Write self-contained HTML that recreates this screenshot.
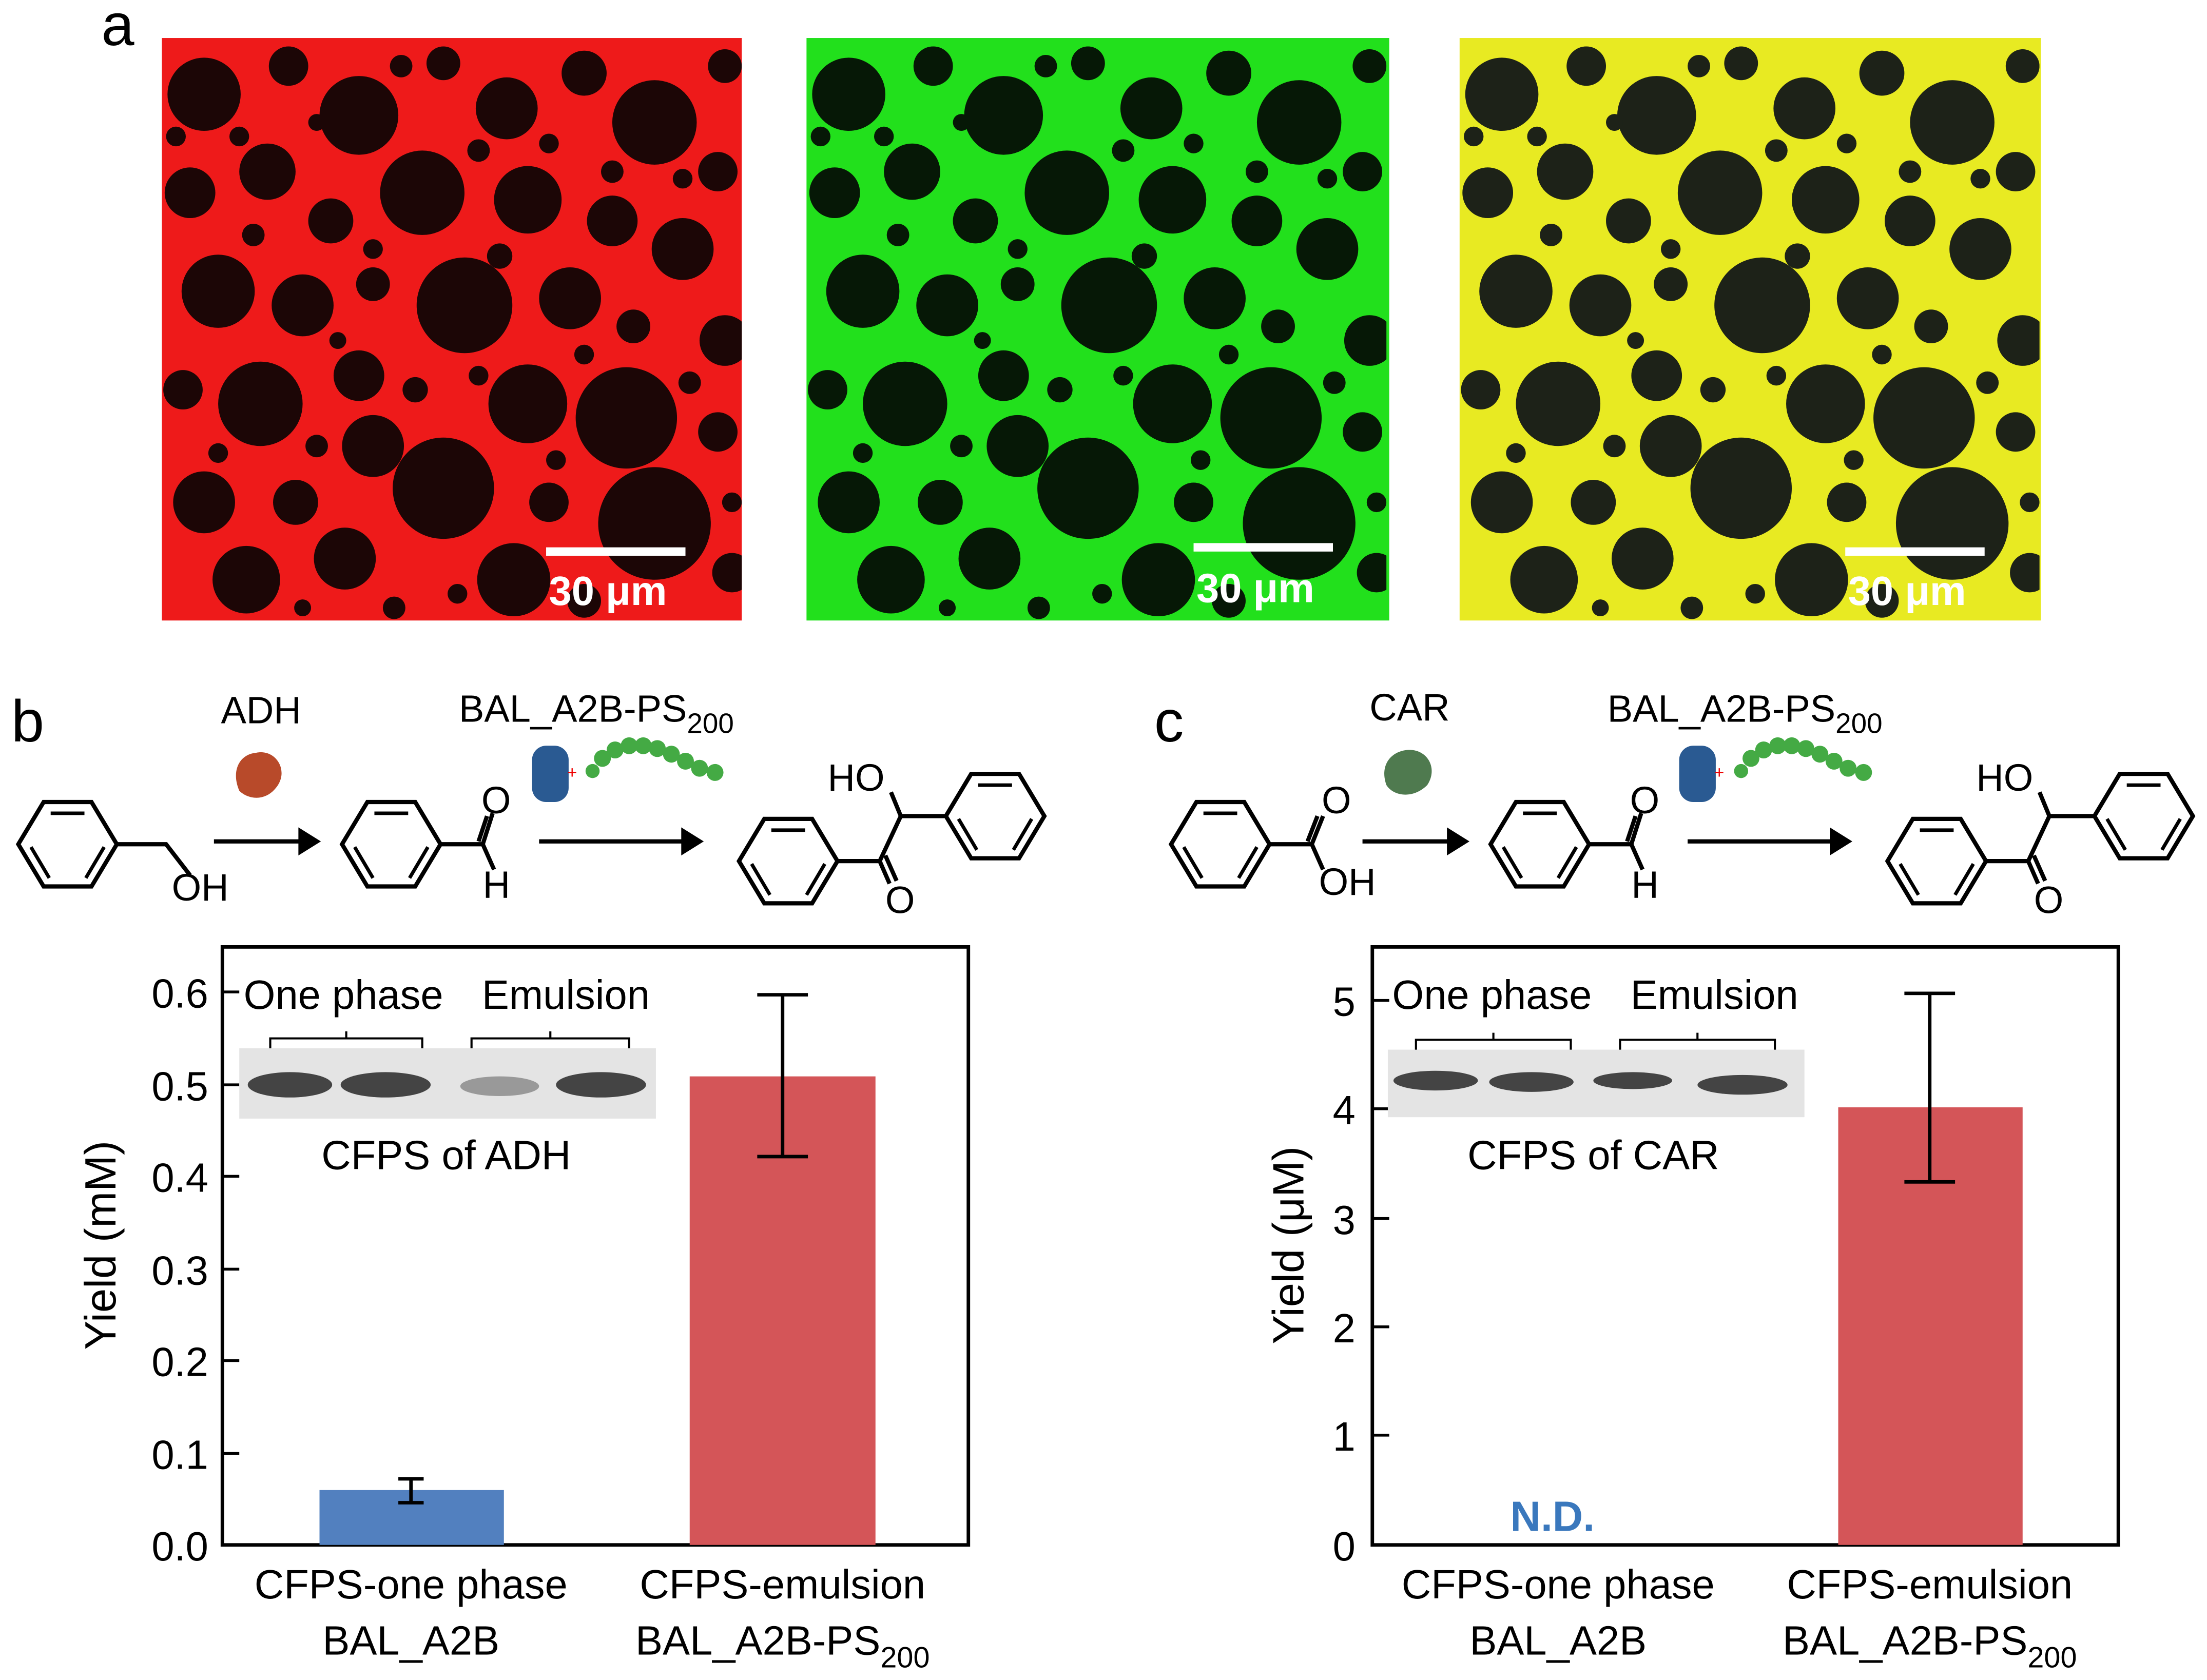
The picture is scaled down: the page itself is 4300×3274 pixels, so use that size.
<!DOCTYPE html>
<html><head><meta charset="utf-8"><style>
html,body{margin:0;padding:0;background:#fff;}
svg{display:block;}
text{font-family:"Liberation Sans",Arial,sans-serif;}
</style></head><body>
<svg width="4300" height="3274" viewBox="0 0 1568 1194" preserveAspectRatio="none" xmlns="http://www.w3.org/2000/svg">
<defs>
<clipPath id="cp"><rect x="0" y="0" width="412" height="414"/></clipPath>
<g id="drops">
<circle cx="30" cy="40" r="26"/><circle cx="90" cy="20" r="14"/><circle cx="140" cy="55" r="28"/><circle cx="200" cy="18" r="12"/><circle cx="245" cy="50" r="22"/><circle cx="300" cy="25" r="16"/><circle cx="350" cy="60" r="30"/><circle cx="400" cy="20" r="12"/><circle cx="395" cy="95" r="14"/>
<circle cx="20" cy="110" r="18"/><circle cx="75" cy="95" r="20"/><circle cx="120" cy="130" r="16"/><circle cx="185" cy="110" r="30"/><circle cx="260" cy="115" r="24"/><circle cx="320" cy="130" r="18"/><circle cx="370" cy="150" r="22"/>
<circle cx="40" cy="180" r="26"/><circle cx="100" cy="190" r="22"/><circle cx="150" cy="175" r="12"/><circle cx="215" cy="190" r="34"/><circle cx="290" cy="185" r="22"/><circle cx="335" cy="205" r="12"/><circle cx="400" cy="215" r="18"/>
<circle cx="15" cy="250" r="14"/><circle cx="70" cy="260" r="30"/><circle cx="140" cy="240" r="18"/><circle cx="150" cy="290" r="22"/><circle cx="260" cy="260" r="28"/><circle cx="330" cy="270" r="36"/><circle cx="395" cy="280" r="14"/>
<circle cx="30" cy="330" r="22"/><circle cx="95" cy="330" r="16"/><circle cx="200" cy="320" r="36"/><circle cx="275" cy="330" r="14"/><circle cx="350" cy="345" r="40"/><circle cx="60" cy="385" r="24"/><circle cx="130" cy="370" r="22"/><circle cx="250" cy="385" r="26"/><circle cx="300" cy="400" r="12"/><circle cx="405" cy="380" r="14"/>
<circle cx="10" cy="70" r="7"/><circle cx="55" cy="70" r="7"/><circle cx="110" cy="60" r="6"/><circle cx="170" cy="20" r="8"/><circle cx="225" cy="80" r="8"/><circle cx="275" cy="75" r="7"/><circle cx="320" cy="95" r="8"/><circle cx="65" cy="140" r="8"/><circle cx="150" cy="150" r="7"/><circle cx="240" cy="155" r="9"/><circle cx="125" cy="215" r="6"/><circle cx="180" cy="250" r="9"/><circle cx="225" cy="240" r="7"/><circle cx="300" cy="225" r="7"/><circle cx="375" cy="245" r="8"/><circle cx="110" cy="290" r="8"/><circle cx="40" cy="295" r="7"/><circle cx="280" cy="300" r="7"/><circle cx="165" cy="405" r="8"/><circle cx="210" cy="395" r="7"/><circle cx="100" cy="405" r="6"/><circle cx="370" cy="100" r="7"/><circle cx="405" cy="330" r="7"/>
</g>
</defs>
<text x="72" y="32" font-size="42">a</text>
<rect x="115" y="27" width="412" height="414" fill="#ee1a1a"/>
<g transform="translate(115,27)" fill="#1c0606" clip-path="url(#cp)"><use href="#drops"/></g>
<rect x="573" y="27" width="414" height="414" fill="#22e01c"/>
<g transform="translate(573,27)" fill="#061806" clip-path="url(#cp)"><use href="#drops"/></g>
<rect x="1037" y="27" width="413" height="414" fill="#e8ea22"/>
<g transform="translate(1037,27)" fill="#1d2218" clip-path="url(#cp)"><use href="#drops"/></g>
<g fill="#fff" font-weight="bold" font-size="29">
<rect x="388" y="389" width="99" height="6"/><text x="390" y="430">30 μm</text>
<rect x="848" y="386" width="99" height="6"/><text x="850" y="428">30 μm</text>
<rect x="1311" y="389" width="99" height="6"/><text x="1313" y="430">30 μm</text>
</g>

<!-- scheme b -->
<g stroke="#000" stroke-width="3" fill="none">
<path d="M13,600 L31,570 L65,570 L83,600 L65,630 L31,630 Z"/><path d="M36,578 L60,578 M22,602 L35,624 M74,602 L61,624" stroke-width="2.5"/>
<path d="M83,600 L118,600 L135,622"/>
<path d="M243,600 L261,570 L295,570 L313,600 L295,630 L261,630 Z"/><path d="M266,578 L290,578 M252,602 L265,624 M304,602 L291,624" stroke-width="2.5"/>
<path d="M313,600 L343,600 L350,578 M340,598 L346,580 M343,600 L351,618"/>
<path d="M525,612 L543,582 L577,582 L595,612 L577,642 L543,642 Z"/><path d="M548,590 L572,590 M534,614 L547,636 M586,614 L573,636" stroke-width="2.5"/>
<path d="M595,612 L625,612 L640,580 L672,580 M625,612 L632,628 M629,608 L637,626 M640,580 L633,563"/>
<path d="M672,580 L690,550 L724,550 L742,580 L724,610 L690,610 Z"/><path d="M695,558 L719,558 M681,582 L694,604 M733,582 L720,604" stroke-width="2.5"/>
<path d="M152,598 L215,598 M383,598 L485,598"/>
</g>
<path d="M228,598 L212,588 L212,608 Z M500,598 L484,588 L484,608 Z" fill="#000"/>
<g font-size="27">
<text x="122" y="640">OH</text><text x="342" y="578">O</text><text x="343" y="638">H</text>
<text x="588" y="562">HO</text><text x="629" y="649">O</text>
<text x="157" y="514">ADH</text>
<text x="326" y="513">BAL_A2B-PS<tspan font-size="20" dy="8">200</tspan></text>
</g>
<text x="8" y="527" font-size="42">b</text>
<path d="M182,535 C196,532 206,548 196,560 C188,570 176,568 170,562 C164,548 170,536 182,535 Z" fill="#b84a2a"/>
<rect x="378" y="530" width="26" height="40" rx="10" fill="#2a5a92"/>
<text x="403" y="553" font-size="12" fill="#e00">+</text>
<g fill="#44aa44"><circle cx="421" cy="548" r="5"/><circle cx="428" cy="539" r="6"/><circle cx="437" cy="533" r="6"/><circle cx="447" cy="530" r="6"/><circle cx="457" cy="530" r="6"/><circle cx="467" cy="532" r="6"/><circle cx="477" cy="536" r="6"/><circle cx="487" cy="541" r="6"/><circle cx="497" cy="546" r="6"/><circle cx="508" cy="549" r="6"/></g>

<!-- scheme c -->
<g stroke="#000" stroke-width="3" fill="none">
<path d="M832,600 L850,570 L884,570 L902,600 L884,630 L850,630 Z"/><path d="M855,578 L879,578 M841,602 L854,624 M893,602 L880,624" stroke-width="2.5"/>
<path d="M902,600 L932,600 L940,580 M929,598 L936,580 M932,600 L940,618"/>
<path d="M1059,600 L1077,570 L1111,570 L1129,600 L1111,630 L1077,630 Z"/><path d="M1082,578 L1106,578 M1068,602 L1081,624 M1120,602 L1107,624" stroke-width="2.5"/>
<path d="M1129,600 L1159,600 L1166,578 M1156,598 L1162,580 M1159,600 L1167,618"/>
<path d="M1341,612 L1359,582 L1393,582 L1411,612 L1393,642 L1359,642 Z"/><path d="M1364,590 L1388,590 M1350,614 L1363,636 M1402,614 L1389,636" stroke-width="2.5"/>
<path d="M1411,612 L1441,612 L1456,580 L1488,580 M1441,612 L1448,628 M1445,608 L1453,626 M1456,580 L1449,563"/>
<path d="M1488,580 L1506,550 L1540,550 L1558,580 L1540,610 L1506,610 Z"/><path d="M1511,558 L1535,558 M1497,582 L1510,604 M1549,582 L1536,604" stroke-width="2.5"/>
<path d="M968,598 L1031,598 M1199,598 L1301,598"/>
</g>
<path d="M1044,598 L1028,588 L1028,608 Z M1316,598 L1300,588 L1300,608 Z" fill="#000"/>
<g font-size="27">
<text x="939" y="578">O</text><text x="937" y="636">OH</text><text x="1158" y="578">O</text><text x="1159" y="638">H</text>
<text x="1404" y="562">HO</text><text x="1445" y="649">O</text>
<text x="973" y="512">CAR</text>
<text x="1142" y="513">BAL_A2B-PS<tspan font-size="20" dy="8">200</tspan></text>
</g>
<text x="820" y="527" font-size="42">c</text>
<path d="M1000,533 C1014,532 1022,546 1014,558 C1004,568 990,566 985,558 C980,544 988,534 1000,533 Z" fill="#4f7a4f"/>
<rect x="1193" y="530" width="26" height="40" rx="10" fill="#2a5a92"/>
<text x="1218" y="553" font-size="12" fill="#e00">+</text>
<g fill="#44aa44"><circle cx="1237" cy="548" r="5"/><circle cx="1244" cy="539" r="6"/><circle cx="1253" cy="533" r="6"/><circle cx="1263" cy="530" r="6"/><circle cx="1273" cy="530" r="6"/><circle cx="1283" cy="532" r="6"/><circle cx="1293" cy="536" r="6"/><circle cx="1303" cy="541" r="6"/><circle cx="1313" cy="546" r="6"/><circle cx="1324" cy="549" r="6"/></g>

<!-- chart b -->
<rect x="158" y="673" width="530" height="425" fill="none" stroke="#000" stroke-width="2.5"/>
<g stroke="#000" stroke-width="2">
<path d="M158,1098 h12 M158,1033 h12 M158,967 h12 M158,902 h12 M158,836 h12 M158,771 h12 M158,705 h12"/>
</g>
<g font-size="29" text-anchor="end">
<text x="148" y="1109">0.0</text><text x="148" y="1044">0.1</text><text x="148" y="978">0.2</text><text x="148" y="913">0.3</text><text x="148" y="847">0.4</text><text x="148" y="782">0.5</text><text x="148" y="716">0.6</text>
</g>
<text transform="translate(82,885) rotate(-90)" font-size="31" text-anchor="middle">Yield (mM)</text>
<rect x="227" y="1059" width="131" height="39" fill="#5280bf"/>
<rect x="490" y="765" width="132" height="333" fill="#d45558"/>
<g stroke="#000" stroke-width="2.5" fill="none">
<path d="M292,1051 V1068 M283,1051 h18 M283,1068 h18"/>
<path d="M556,707 V822 M538,707 h36 M538,822 h36"/>
</g>
<rect x="170" y="745" width="296" height="50" fill="#e4e4e4"/>
<g fill="#444"><ellipse cx="206" cy="771" rx="30" ry="9"/><ellipse cx="274" cy="771" rx="32" ry="9"/><ellipse cx="355" cy="772" rx="28" ry="7" fill="#999"/><ellipse cx="427" cy="771" rx="32" ry="9"/></g>
<path d="M192,745 V738 H300 V745 M246,738 V733 M335,745 V738 H447 V745 M391,738 V733" stroke="#000" stroke-width="1.5" fill="none"/>
<g font-size="29" text-anchor="middle">
<text x="244" y="717">One phase</text><text x="402" y="717">Emulsion</text><text x="317" y="831">CFPS of ADH</text>
<text x="292" y="1136">CFPS-one phase</text><text x="292" y="1176">BAL_A2B</text>
<text x="556" y="1136">CFPS-emulsion</text><text x="556" y="1176">BAL_A2B-PS<tspan font-size="21" dy="9">200</tspan></text>
</g>

<!-- chart c -->
<rect x="975" y="673" width="530" height="425" fill="none" stroke="#000" stroke-width="2.5"/>
<g stroke="#000" stroke-width="2">
<path d="M975,1098 h12 M975,1020 h12 M975,943 h12 M975,866 h12 M975,788 h12 M975,711 h12"/>
</g>
<g font-size="29" text-anchor="end">
<text x="963" y="1109">0</text><text x="963" y="1031">1</text><text x="963" y="954">2</text><text x="963" y="877">3</text><text x="963" y="799">4</text><text x="963" y="722">5</text>
</g>
<text transform="translate(926,885) rotate(-90)" font-size="31" text-anchor="middle">Yield (μM)</text>
<text x="1103" y="1088" font-size="30" font-weight="bold" fill="#3a78bd" text-anchor="middle">N.D.</text>
<rect x="1306" y="787" width="131" height="311" fill="#d45558"/>
<path d="M1371,706 V840 M1353,706 h36 M1353,840 h36" stroke="#000" stroke-width="2.5" fill="none"/>
<rect x="986" y="746" width="296" height="48" fill="#e4e4e4"/>
<g fill="#444"><ellipse cx="1020" cy="768" rx="30" ry="7"/><ellipse cx="1088" cy="769" rx="30" ry="7"/><ellipse cx="1160" cy="768" rx="28" ry="6"/><ellipse cx="1238" cy="771" rx="32" ry="7"/></g>
<path d="M1006,746 V739 H1116 V746 M1061,739 V734 M1151,746 V739 H1261 V746 M1206,739 V734" stroke="#000" stroke-width="1.5" fill="none"/>
<g font-size="29" text-anchor="middle">
<text x="1060" y="717">One phase</text><text x="1218" y="717">Emulsion</text><text x="1132" y="831">CFPS of CAR</text>
<text x="1107" y="1136">CFPS-one phase</text><text x="1107" y="1176">BAL_A2B</text>
<text x="1371" y="1136">CFPS-emulsion</text><text x="1371" y="1176">BAL_A2B-PS<tspan font-size="21" dy="9">200</tspan></text>
</g>
</svg>
</body></html>
